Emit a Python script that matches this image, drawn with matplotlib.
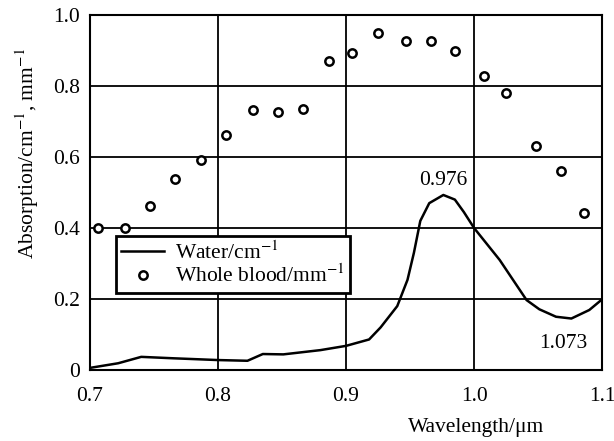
import numpy as np
import matplotlib
matplotlib.use("Agg")
import matplotlib.pyplot as plt

# water absorption, /cm
water_wl = [0.700, 0.722, 0.740, 0.765, 0.800, 0.823, 0.835, 0.851, 0.880, 0.900,
            0.918, 0.927, 0.940, 0.948, 0.953, 0.958, 0.965, 0.976, 0.985, 0.992,
            1.000, 1.020, 1.041, 1.051, 1.064, 1.076, 1.090, 1.100]
water_abs = [0.006, 0.019, 0.037, 0.033, 0.028, 0.026, 0.045, 0.044, 0.056, 0.068,
             0.086, 0.120, 0.180, 0.254, 0.330, 0.420, 0.470, 0.493, 0.480, 0.445,
             0.400, 0.310, 0.197, 0.171, 0.150, 0.145, 0.169, 0.199]

# whole blood absorption, /mm
blood_wl = [0.706, 0.727, 0.747, 0.766, 0.787, 0.806, 0.827, 0.847, 0.866, 0.887,
            0.905, 0.925, 0.947, 0.966, 0.985, 1.008, 1.025, 1.048, 1.068, 1.086]
blood_abs = [0.400, 0.400, 0.462, 0.538, 0.592, 0.662, 0.732, 0.727, 0.735, 0.870,
             0.893, 0.949, 0.927, 0.927, 0.898, 0.828, 0.780, 0.631, 0.561, 0.442]

xticks = [0.7, 0.8, 0.9, 1.0, 1.1]
yticks = [0, 0.2, 0.4, 0.6, 0.8, 1.0]
ytick_labels = ["0", "0.2", "0.4", "0.6", "0.8", "1.0"]

fs = 15.5
plt.rcParams['font.family'] = ['Liberation Serif', 'DejaVu Serif']
plt.rcParams['mathtext.fontset'] = 'stix'
plt.rcParams['font.size'] = fs

fig = plt.figure(figsize=(6.14, 4.41), dpi=100)
ax = fig.add_axes([0.1466, 0.161, 0.834, 0.805])

ax.plot(water_wl, water_abs, color='black', lw=1.8, label='Water/cm$^{-1}$')
ax.plot(blood_wl, blood_abs, 'o', ms=6, mfc='white', mec='black', mew=1.8,
        label='Whole blood/mm$^{-1}$')

ax.set_xlim(0.7, 1.1)
ax.set_ylim(0, 1.0)
ax.set_xticks(xticks)
ax.set_xticklabels(["0.7", "0.8", "0.9", "1.0", "1.1"])
ax.set_yticks(yticks)
ax.set_yticklabels(ytick_labels)
ax.tick_params(axis='x', length=0, pad=12, labelsize=fs)
ax.tick_params(axis='y', length=0, pad=7, labelsize=fs)
ax.grid(True, color='black', lw=1.3)
for s in ax.spines.values():
    s.set_linewidth(1.5)

ax.text(0.976, 0.521, '0.976', ha='center', va='baseline', fontsize=fs)
ax.text(1.0695, 0.076, '1.073', ha='center', va='center', fontsize=fs)

ax.set_ylabel('Absorption/cm$^{-1}$, mm$^{-1}$', fontsize=fs)
ax.yaxis.set_label_coords(-0.096, 0.611)
ax.set_xlabel('Wavelength/μm', fontsize=fs)
ax.xaxis.set_label_coords(0.754, -0.135)

leg = ax.legend(loc='upper left', bbox_to_anchor=(0.05, 0.378), frameon=True,
                fancybox=False, edgecolor='black', framealpha=1, fontsize=fs,
                handlelength=2.0, handletextpad=0.5, borderpad=0.25,
                labelspacing=0.05, borderaxespad=0)
leg.get_frame().set_linewidth(2)

fig.savefig('out.png', dpi=100)
